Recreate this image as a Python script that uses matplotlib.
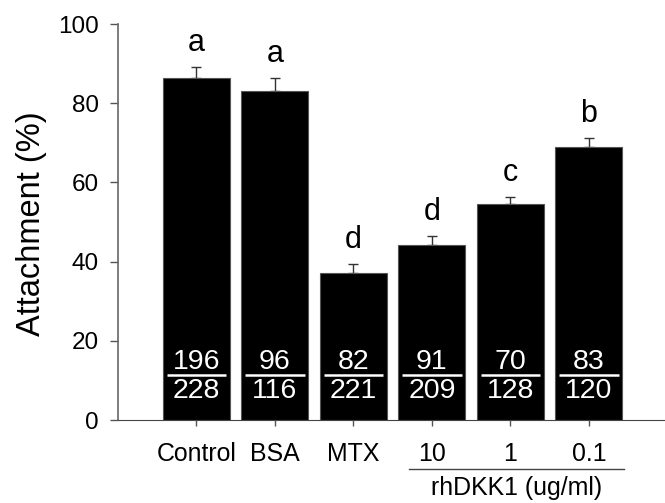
import numpy as np
import matplotlib.pyplot as plt

plt.rcParams['font.family'] = ['Liberation Sans', 'DejaVu Sans']

groups = ["Control", "BSA", "MTX", "10", "1", "0.1"]
attach = [86.4, 83.1, 37.1, 44.2, 54.5, 69.0]
err = [2.7, 3.3, 2.3, 2.3, 1.8, 2.2]
letters = ["a", "a", "d", "d", "c", "b"]
attached_n = ["196", "96", "82", "91", "70", "83"]
total_n = ["228", "116", "221", "209", "128", "120"]

fig = plt.figure(figsize=(6.65, 5.03), dpi=100)
ax = fig.add_axes([0.1774, 0.165, 0.8226, 0.787])

x = np.arange(1, len(groups) + 1)
w = 0.855
ax.bar(x, attach, width=w, color='black', edgecolor='#555555', linewidth=0.8, zorder=2)
ax.errorbar(x, attach, yerr=[np.zeros(len(err)), err], fmt='none',
            ecolor='#333333', elinewidth=1.0, capsize=3.5, capthick=1.0, zorder=1)

for xi, v, e, l in zip(x, attach, err, letters):
    ax.text(xi, v + e + 4.0, l, ha='center', va='baseline', fontsize=22)

for xi, a, t in zip(x, attached_n, total_n):
    ax.text(xi, 14.6, a, ha='center', va='center', color='white', fontsize=20.5, zorder=3)
    ax.text(xi, 7.4, t, ha='center', va='center', color='white', fontsize=20.5, zorder=3)
    ax.plot([xi - 0.38, xi + 0.38], [11.4, 11.4], color='white', lw=1.8,
            solid_capstyle='butt', zorder=3)

ax.set_xlim(0, 6.97)
ax.set_ylim(0, 100)
ax.set_yticks([0, 20, 40, 60, 80, 100])
ax.set_xticks(x)
ax.set_xticklabels(groups, fontsize=17.9)
ax.tick_params(axis='y', labelsize=17.5, length=6, width=1, color='#555555', pad=8)
ax.tick_params(axis='x', length=4, width=1, color='#555555', pad=12)
ax.spines['top'].set_visible(False)
ax.spines['right'].set_visible(False)
ax.spines['left'].set_color('#666666')
ax.spines['bottom'].set_color('#444444')
ax.spines['left'].set_linewidth(1.2)
ax.set_ylabel("Attachment (%)", fontsize=23.5)
ax.yaxis.set_label_coords(-0.130, 0.495)

# bracket under the rhDKK1 doses
ax.plot([3.71, 6.45], [-12.4, -12.4], color='#444444', lw=1.0, clip_on=False)
ax.text(5.08, -17.2, "rhDKK1 (ug/ml)", ha='center', va='center', fontsize=17.9,
        clip_on=False)

fig.savefig("out.png", dpi=100)
